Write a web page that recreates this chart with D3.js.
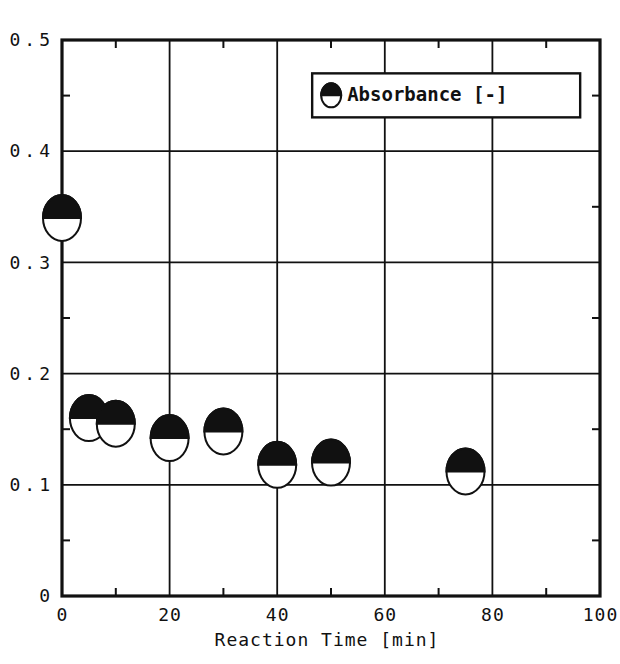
<!DOCTYPE html>
<html>
<head>
<meta charset="utf-8">
<script src="https://cdn.jsdelivr.net/npm/d3@7"></script>
<style>
  body { margin: 0; background: #fff; }
  text { font-family: "DejaVu Sans Mono", "Liberation Mono", monospace; fill: #111; }
</style>
</head>
<body>
<div id="chart"></div>
<script>
// Data
const reactionTime = [0, 5, 10, 20, 30, 40, 50, 75];
const absorbance   = [0.34, 0.16, 0.155, 0.142, 0.148, 0.118, 0.12, 0.112];
const xTicks = [0, 20, 40, 60, 80, 100];
const yTicks = [0, 0.1, 0.2, 0.3, 0.4, 0.5];
const yTickLabels = ["0", "0.1", "0.2", "0.3", "0.4", "0.5"];
const legendLabel = "Absorbance [-]";
const xTitle = "Reaction Time [min]";

const width = 620, height = 664;
const margin = {top: 40, right: 20, bottom: 68, left: 62};
const innerW = width - margin.left - margin.right;
const innerH = height - margin.top - margin.bottom;

const xScale = d3.scaleLinear().domain([0, 100]).range([0, innerW]);
const yScale = d3.scaleLinear().domain([0, 0.5]).range([innerH, 0]);

const svg = d3.select("#chart").append("svg")
    .attr("width", width)
    .attr("height", height);

const g = svg.append("g")
    .attr("transform", `translate(${margin.left}, ${margin.top})`);

// grid
g.append("g").selectAll("line")
    .data(xTicks.slice(1, -1))
    .join("line")
    .attr("x1", d => xScale(d)).attr("x2", d => xScale(d))
    .attr("y1", 0).attr("y2", innerH)
    .attr("stroke", "#111").attr("stroke-width", 1.8);

g.append("g").selectAll("line")
    .data(yTicks.slice(1, -1))
    .join("line")
    .attr("x1", 0).attr("x2", innerW)
    .attr("y1", d => yScale(d)).attr("y2", d => yScale(d))
    .attr("stroke", "#111").attr("stroke-width", 1.8);

// minor ticks, inward
const xMinor = d3.range(10, 100, 20);
const yMinor = d3.range(0.05, 0.5, 0.1);
const tickLen = 8;
const minor = g.append("g").attr("stroke", "#111").attr("stroke-width", 2);
minor.selectAll(".xb").data(xMinor).join("line")
    .attr("x1", d => xScale(d)).attr("x2", d => xScale(d))
    .attr("y1", innerH).attr("y2", innerH - tickLen);
minor.selectAll(".xt").data(xMinor).join("line")
    .attr("x1", d => xScale(d)).attr("x2", d => xScale(d))
    .attr("y1", 0).attr("y2", tickLen);
minor.selectAll(".yl").data(yMinor).join("line")
    .attr("x1", 0).attr("x2", tickLen)
    .attr("y1", d => yScale(d)).attr("y2", d => yScale(d));
minor.selectAll(".yr").data(yMinor).join("line")
    .attr("x1", innerW).attr("x2", innerW - tickLen)
    .attr("y1", d => yScale(d)).attr("y2", d => yScale(d));

// frame
g.append("rect")
    .attr("width", innerW).attr("height", innerH)
    .attr("fill", "none").attr("stroke", "#111").attr("stroke-width", 3.2);

// axes labels
const xAxis = d3.axisBottom(xScale).tickValues(xTicks).tickSize(0).tickPadding(12);
g.append("g").attr("transform", `translate(0, ${innerH})`).call(xAxis)
    .call(s => s.select(".domain").remove())
    .selectAll("text")
    .style("font-family", "'DejaVu Sans Mono', monospace")
    .style("font-size", "18px").style("letter-spacing", "1px").attr("fill", "#111");

const yAxis = d3.axisLeft(yScale).tickValues(yTicks)
    .tickFormat((d, i) => yTickLabels[i]).tickSize(0).tickPadding(8);
g.append("g").call(yAxis)
    .call(s => s.select(".domain").remove())
    .selectAll("text")
    .style("font-family", "'DejaVu Sans Mono', monospace")
    .style("font-size", "18px").style("letter-spacing", "4px").attr("fill", "#111");

g.append("text")
    .attr("x", innerW / 2 - 4).attr("y", innerH + 50)
    .attr("text-anchor", "middle")
    .style("font-size", "18px")
    .style("letter-spacing", "1px")
    .text(xTitle);

// half-filled marker: black upper half, white lower half
const rx = 19, ry = 23;
function marker(sel, a, b) {
    sel.append("ellipse").attr("rx", a).attr("ry", b)
        .attr("fill", "#fff").attr("stroke", "#111").attr("stroke-width", 2);
    sel.append("path")
        .attr("d", `M${-a},0 A${a},${b} 0 0 1 ${a},0 Z`)
        .attr("fill", "#111").attr("stroke", "#111").attr("stroke-width", 2);
}

const pts = reactionTime.map((t, i) => ({t, a: absorbance[i]}));
g.append("g").selectAll("g")
    .data(pts)
    .join("g")
    .attr("transform", d => `translate(${xScale(d.t)}, ${yScale(d.a)})`)
    .each(function () { marker(d3.select(this), rx, ry); });

// legend
const lg = g.append("g").attr("transform", `translate(${xScale(46.5)}, ${yScale(0.47)})`);
lg.append("rect")
    .attr("width", 268).attr("height", 44)
    .attr("fill", "#fff").attr("stroke", "#111").attr("stroke-width", 2.4);
const lm = lg.append("g").attr("transform", "translate(19, 22)");
marker(lm, 10, 12);
lg.append("text")
    .attr("x", 35).attr("y", 28)
    .style("font-size", "19px")
    .style("font-weight", "bold")
    .text(legendLabel);
</script>
</body>
</html>
